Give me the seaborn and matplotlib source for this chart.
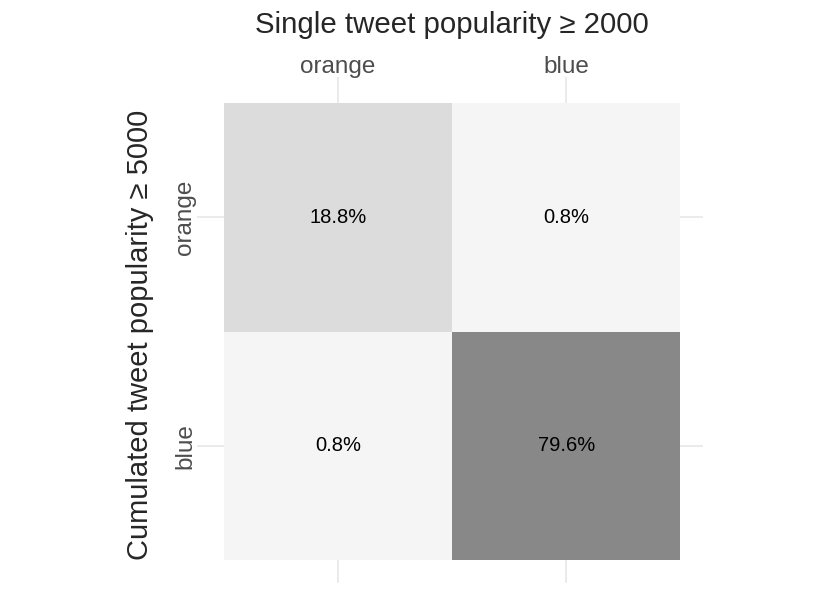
import numpy as np
import pandas as pd
import matplotlib
matplotlib.use("Agg")
import matplotlib.pyplot as plt
import seaborn as sns
from matplotlib.colors import LinearSegmentedColormap

# data
single_labels = ["orange", "blue"]      # columns: single tweet popularity >= 2000
cumulated_labels = ["orange", "blue"]   # rows: cumulated tweet popularity >= 5000
row_orange = [18.8, 0.8]
row_blue = [0.8, 79.6]

df = pd.DataFrame([row_orange, row_blue], index=cumulated_labels, columns=single_labels)
annot = df.map(lambda v: f"{v:.1f}%")

sns.set_theme(style="white")
plt.rcParams["font.family"] = ["Liberation Sans", "DejaVu Sans"]

fig = plt.figure(figsize=(8.3, 5.92), dpi=100)
ax = fig.add_axes([196.7 / 830, 1 - 583 / 592, 506.3 / 830, 506 / 592])

cmap = LinearSegmentedColormap.from_list("greys", ["#F6F6F6", "#6C6C6C"])
sns.heatmap(df, ax=ax, cmap=cmap, vmin=0, vmax=100, cbar=False,
            annot=annot, fmt="", annot_kws={"color": "black", "fontsize": 14.5})

ax.set_xlim(-0.12, 2.1)
ax.set_ylim(2.1, -0.114)
ax.set_axisbelow(True)
ax.grid(True, color="#E6E6E6", linewidth=1.1)
for s in ax.spines.values():
    s.set_visible(False)

ax.xaxis.tick_top()
ax.tick_params(axis="both", length=0, labelsize=17.5, labelcolor="#4D4D4D")
ax.tick_params(axis="x", pad=-1)
ax.tick_params(axis="y", pad=0.5)
ax.set_yticklabels(cumulated_labels, rotation=90, va="center")
ax.set_xticklabels(single_labels, rotation=0)
ax.set_xlabel("")
ax.set_ylabel("")

fig.text(452 / 830, 1 - 25 / 592, "Single tweet popularity \u2265 2000",
         ha="center", va="center", fontsize=21.2)
fig.text(140 / 830, 1 - 335 / 592, "Cumulated tweet popularity \u2265 5000",
         ha="center", va="center", rotation=90, fontsize=21)

fig.savefig("out.png", dpi=100)
